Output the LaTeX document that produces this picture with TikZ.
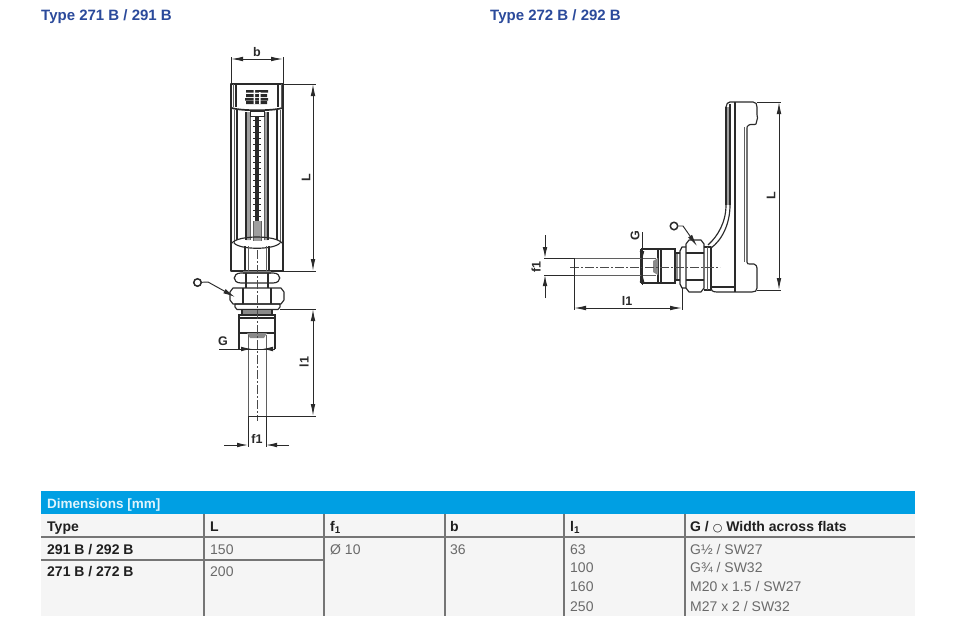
\documentclass[tikz,border=0pt]{standalone}
\usepackage{fontspec}
\setmainfont{Liberation Sans}
\newfontfamily\symfont{DejaVu Sans}
\usetikzlibrary{arrows.meta}
\definecolor{linecol}{HTML}{2A2A2A}
\definecolor{titleblue}{HTML}{2B4A9B}
\definecolor{barblue}{HTML}{009FE3}
\definecolor{tablebg}{HTML}{F5F5F5}
\definecolor{rulegrey}{HTML}{757575}
\definecolor{valgrey}{HTML}{6A6A6A}
\tikzset{
  part/.style={draw=linecol,line width=1.15pt,line join=round},
  thin part/.style={draw=linecol!75,line width=0.9pt},
  heavy part/.style={draw=linecol,line width=1.7pt},
  centre line/.style={draw=linecol!85,line width=0.9pt,dash pattern=on 9pt off 2pt on 2pt off 2pt},
  dimline/.style={draw=linecol,line width=0.95pt},
  dimarrow/.style={dimline,{Latex[length=12pt,width=4.6pt]}-{Latex[length=12pt,width=4.6pt]}},
  dimtip/.style={dimline,-{Latex[length=11pt,width=4.6pt]}},
  leader/.style={dimline,-{Latex[length=12pt,width=4.8pt]}},
  dimlabel/.style={font=\fontsize{12.5}{12.5}\selectfont\bfseries,text=linecol,inner sep=0pt},
  flatmark/.style={draw=linecol,line width=1.5pt,circle,minimum size=7.5pt,inner sep=0pt},
  title/.style={font=\fontsize{15}{15}\selectfont\bfseries,text=titleblue,anchor=base west,inner sep=0pt},
  head/.style={font=\fontsize{14}{14}\selectfont\bfseries,text=black!88,anchor=base west,inner sep=0pt},
  val/.style={font=\fontsize{14}{14}\selectfont,text=valgrey,anchor=base west,inner sep=0pt},
  trule/.style={draw=rulegrey,line width=1.2pt},
}
\begin{document}
\begin{tikzpicture}[x=1pt,y=-1pt]
\useasboundingbox (0,0) rectangle (960,619);
\fill[white] (0,0) rectangle (960,619);
% titles
\node[title] (t1) at (41,20) {Type 271 B / 291 B};
\node[title] (t2) at (490,20) {Type 272 B / 292 B};

%%%% LEFT DRAWING
\draw[part] (231,84) rectangle (283,271);
\draw[thin part] (233,84) -- (233,107) (281,84) -- (281,107);
\draw[part] (236,84) -- (236,107) (278,84) -- (278,107);
\draw[heavy part] (232,108) .. controls (240,111) and (274,111) .. (282,108);
\fill[linecol] (246,90) rectangle (268,92.5) (246,94) rectangle (267,97) (245,98) rectangle (268,100.5) (246,101) rectangle (267,104);
\fill[white] (253.5,90) rectangle (255,104) (259,92) rectangle (260.5,104);
\draw[part] (237,110) -- (237,240);
\draw[thin part] (234,110) -- (234,243) (280,110) -- (280,243);
\draw[part] (277,110) -- (277,240);
\fill[linecol!45] (246,112) rectangle (250,240) (264,112) rectangle (268,240);
\draw[part] (246,112) -- (246,240) (268,112) -- (268,240);
\draw[thin part] (250,112) -- (250,240) (264,112) -- (264,240);
\fill[white,draw=linecol,line width=0.6pt] (250,111) rectangle (264,116);
\draw[linecol,line width=3.6pt] (257,116) -- (257,221);
\foreach \yy in {120,126,...,222}{\draw[linecol,line width=1pt] (253,\yy) -- (261,\yy);}
\fill[linecol!45] (253,221) rectangle (261,241);
\draw[thin part] (253,221) -- (253,241) (261,221) -- (261,241);
\draw[part] (232,243) .. controls (238,235) and (276,235) .. (282,243);
\draw[part] (234,243) .. controls (240,250) and (274,250) .. (280,243);
\draw[part] (245,246) -- (245,271) (269,246) -- (269,271);
\draw[thin part] (248,246) -- (248,271) (266,246) -- (266,271);
% lower fittings left
\fill[linecol!60] (243,271) rectangle (271,274);
\draw[part] (241,273) .. controls (232,273) and (232,283) .. (241,283) -- (273,283) .. controls (282,283) and (282,273) .. (273,273) -- cycle;
\draw[part] (246,273) -- (246,288) (268,273) -- (268,288);
\draw[part] (233,288) -- (281,288) -- (284,292) -- (284,300) -- (281,304) -- (233,304) -- (230,300) -- (230,292) -- cycle;
\draw[part] (243,288) -- (243,304) (271,288) -- (271,304);
\draw[part] (235,304) -- (280,304) -- (280,307) -- (278,309.5) -- (237,309.5) -- (235,307) -- cycle;
\fill[linecol!55] (242,310) rectangle (272,314);
\draw[part] (242,310) -- (242,315) (272,310) -- (272,315);
\draw[heavy part] (239,315) -- (275,315) -- (275,333) -- (239,333) -- cycle;
\draw[part] (239,318) -- (275,318);
\fill[linecol!55] (247,333) -- (267,333) -- (264,338) -- (250,338) -- cycle;
\draw[part] (239,333) -- (239,349) (275,333) -- (275,349);
\draw[thin part] (248,335) -- (248,416) (266,335) -- (266,416);
\draw[centre line] (257,250) -- (257,421);
% left dimensions
\coordinate (bL) at (231,59); \coordinate (bR) at (283,59);
\draw[dimline] (231,57) -- (231,84) (283,57) -- (283,84);
\draw[dimarrow] (bL) -- (bR);
\node[dimlabel] (blabel) at (257,52) {b};
\coordinate (LT) at (313,84); \coordinate (LB) at (313,271);
\draw[dimline] (283,84) -- (316,84) (283,271) -- (316,271);
\draw[dimarrow] (LT) -- (LB);
\node[dimlabel,rotate=90] (Llabel) at (306,178) {L};
\coordinate (lT) at (313,309); \coordinate (lB) at (313,416);
\draw[dimline] (280,309) -- (316,309) (248,416) -- (316,416);
\draw[dimarrow] (lT) -- (lB);
\node[dimlabel,rotate=90] (l1label) at (304,362) {l1};
\coordinate (gA) at (219,349); \coordinate (gB) at (275,349);
\draw[dimline] (gA) -- (gB);
\draw[dimtip] (240,349) -- (252,349);
\draw[dimtip] (274,349) -- (262,349);
\node[dimlabel] (Glabel) at (223,341) {G};
\coordinate (fA) at (224,445); \coordinate (fB) at (289,445);
\draw[dimline] (248,416) -- (248,447) (266,416) -- (266,447);
\draw[dimtip] (fA) -- (248,445);
\draw[dimtip] (fB) -- (266,445);
\node[dimlabel] (f1label) at (257,439) {f1};
\node[flatmark] (oL) at (197.5,282.5) {};
\coordinate (oLa) at (208,282);
\draw[leader] (oL) -- (oLa) -- (235,297);

%%%% RIGHT DRAWING
\draw[part] (726,107) .. controls (726,104) and (728,102) .. (730,102) -- (753,102) .. controls (756,102) and (757,104) .. (757,107) -- (757,112) .. controls (758,114) and (756,116) .. (757.5,118) .. controls (756,120) and (757.5,122) .. (756,124) .. controls (755,125) and (750,124) .. (749,125) .. controls (747,126) and (747,127) .. (747,128) -- (747,262) .. controls (747,264) and (748,264) .. (750,264) -- (754,264) .. controls (756,265) and (757,266) .. (757,268) -- (757,288) .. controls (757,291) and (755,292) .. (752,292) -- (717,292) .. controls (712,292) and (711,290) .. (711,288);
\draw[part] (735,102) -- (735,292);
\draw[thin part] (744,127) -- (744,262);
\fill[linecol!45] (726,107) rectangle (730,205);
\draw[part] (726,107) -- (726,205) (730,104) -- (730,205);
\draw[part] (726,205) .. controls (726,222) and (718,236) .. (708,245);
\draw[part] (730,205) .. controls (730,224) and (722,240) .. (711,248);
\draw[part] (711,287) -- (735,287);
% fittings right
\draw[part] (704,247) -- (711,247) -- (711,290) -- (704,290);
\draw[thin part] (707,247) -- (707,290);
\draw[part] (689,240) -- (701,240) -- (704,244) -- (704,288) -- (701,292) -- (689,292) -- (686,288) -- (686,244) -- cycle;
\draw[part] (686,253) -- (704,253) (686,280) -- (704,280);
\draw[part] (686,247) -- (682,247) -- (680,251) -- (680,284) -- (682,288) -- (686,288);
\fill[linecol!55] (675,253) rectangle (678,280);
\draw[part] (680,253) -- (675,253) (680,280) -- (675,280);
\draw[heavy part] (658,249) rectangle (675,283);
\draw[part] (661,249) -- (661,283);
\draw[part] (641,249) -- (658,249) (641,283) -- (658,283) (641,249) -- (641,283);
\fill[linecol!55] (658,258) -- (658,275) -- (653,272) -- (653,261) -- cycle;
\draw[thin part] (574,258) -- (656,258) (574,275) -- (656,275);
\draw[centre line] (570,267) -- (720,267);
% right dimensions
\draw[dimline] (757,102) -- (781,102) (757,290) -- (781,290);
\coordinate (RLT) at (779,102); \coordinate (RLB) at (779,290);
\draw[dimarrow] (RLT) -- (RLB);
\node[dimlabel,rotate=90] (RLlabel) at (771,196) {L};
\draw[dimline] (544,258) -- (574,258) (544,275) -- (574,275);
\coordinate (fT) at (545,235); \coordinate (fBm) at (545,298);
\draw[dimtip] (fT) -- (545,258);
\draw[dimtip] (fBm) -- (545,275);
\node[dimlabel,rotate=90] (Rf1) at (536,267) {f1};
\draw[dimline] (574,258) -- (574,310) (682,288) -- (682,310);
\coordinate (Rl1A) at (574,308); \coordinate (Rl1B) at (682,308);
\draw[dimarrow] (Rl1A) -- (Rl1B);
\node[dimlabel] (Rl1) at (627,301) {l1};
\coordinate (RgT) at (642,232); \coordinate (RgB) at (642,285);
\draw[dimline] (RgT) -- (RgB);
\draw[dimtip] (642,250) -- (642,262);
\draw[dimtip] (642,284) -- (642,271);
\node[dimlabel,rotate=90] (RG) at (635,236) {G};
\node[flatmark] (oR) at (674,226) {};
\coordinate (oRa) at (683,226);
\draw[leader] (oR) -- (oRa) -- (697,246);

%%%% TABLE
\fill[tablebg] (41,514) rectangle (915,616);
\fill[barblue] (41,491) rectangle (915,514);
\node[font=\fontsize{13.5}{13.5}\selectfont\bfseries,text=white!88!barblue,anchor=base west,inner sep=0pt] (tt) at (47,508) {Dimensions [mm]};
\draw[trule] (41,537) -- (915,537);
\draw[trule] (41,560) -- (324,560);
\draw[trule] (204,514) -- (204,616) (324,514) -- (324,616) (445,514) -- (445,616) (564,514) -- (564,616) (685,514) -- (685,616);
\node[head] (h1) at (47,531) {Type};
\node[head] (h2) at (210,531) {L};
\node[head] (h3) at (330,531) {f\textsubscript{1}};
\node[head] (h4) at (450,531) {b};
\node[head] (h5) at (570,531) {l\textsubscript{1}};
\node[head] (h6) at (690,531) {G / {\symfont\mdseries\fontsize{11}{11}\selectfont ○} Width across flats};
\node[head] (r1) at (47,554) {291 B / 292 B};
\node[head] (r2) at (47,576) {271 B / 272 B};
\node[val] (v1) at (210,554) {150};
\node[val] (v2) at (210,576) {200};
\node[val] (v3) at (330,554) {Ø 10};
\node[val] (v4) at (450,554) {36};
\node[val] (a1) at (570,554) {63};
\node[val] (a2) at (570,572) {100};
\node[val] (a3) at (570,591) {160};
\node[val] (a4) at (570,611) {250};
\node[val] (b1) at (690,554) {G½ / SW27};
\node[val] (b2) at (690,572) {G¾ / SW32};
\node[val] (b3) at (690,591) {M20 x 1.5 / SW27};
\node[val] (b4) at (690,611) {M27 x 2 / SW32};
\end{tikzpicture}
\end{document}
